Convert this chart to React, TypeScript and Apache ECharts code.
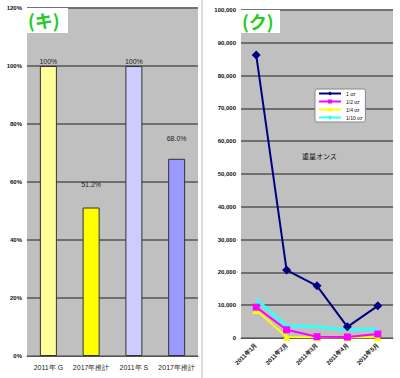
import React, { useEffect, useRef } from "react";
import * as echarts from "echarts";

const barCategories = ["2011年 G", "2017年推計", "2011年 S", "2017年推計"];
const barValues = [1.0, 0.512, 1.0, 0.68];
const barLabels = ["100%", "51.2%", "100%", "68.0%"];
const barColors = ["#ffff99", "#ffff00", "#ccccff", "#9999ff"];
const barLabelDist = [1, 20, 1, 17];
const leftGridTicks = [0.2, 0.4, 0.6, 0.8, 1.0, 1.2];

const lineCategories = ["2011年1月", "2011年2月", "2011年3月", "2011年4月", "2011年5月"];
const oz1 = [86300, 20700, 15900, 3400, 9800];
const oz12 = [9400, 2500, 400, 300, 1200];
const oz14 = [8500, 300, 200, 200, 200];
const oz110 = [11800, 3700, 3400, 2500, 2600];
const rightGridTicks = [10000, 20000, 30000, 40000, 50000, 60000, 70000, 80000, 90000, 100000];

const G1 = { left: 27, top: 8, width: 171, height: 348 };
const G2 = { left: 241, top: 10, width: 152, height: 328 };

const gridLineMark = (ticks: number[]) => ({
  silent: true,
  z: 1,
  symbol: ["none", "none"],
  label: { show: false },
  emphasis: { disabled: true },
  lineStyle: { color: "#6a6a6a", width: 1.5, type: "solid" },
  data: ticks.map((t) => ({ yAxis: t })),
});

export default function App() {
  const ref = useRef<HTMLDivElement>(null);
  useEffect(() => {
    if (!ref.current) return;
    const chart = echarts.init(ref.current, null, { renderer: "svg" });
    const axisLabelStyle = { fontSize: 6, color: "#111", fontFamily: "Arial", fontWeight: "bold" as const };
    chart.setOption({
      animation: false,
      backgroundColor: "#ffffff",
      grid: [
        { ...G1, show: false },
        { ...G2, show: false },
      ],
      xAxis: [
        {
          gridIndex: 0,
          type: "category",
          data: barCategories,
          axisLine: { show: true, lineStyle: { color: "#555" } },
          axisTick: { show: false },
          axisLabel: { fontSize: 7, color: "#222", fontFamily: "Arial", margin: 8, interval: 0 },
        },
        {
          gridIndex: 1,
          type: "category",
          data: lineCategories,
          axisLine: { show: true, lineStyle: { color: "#555" } },
          axisTick: { show: false },
          axisLabel: { fontSize: 6, color: "#111", fontFamily: "Arial", rotate: 45, margin: 6, fontWeight: "bold", interval: 0 },
        },
      ],
      yAxis: [
        {
          gridIndex: 0,
          type: "value",
          min: 0,
          max: 1.2,
          interval: 0.2,
          axisLine: { show: false },
          axisTick: { show: false },
          axisLabel: { ...axisLabelStyle, margin: 5, formatter: (v: number) => Math.round(v * 100) + "%" },
          splitLine: { show: true, lineStyle: { color: "#6a6a6a", width: 1.5 } },
        },
        {
          gridIndex: 1,
          type: "value",
          min: 0,
          max: 100000,
          interval: 10000,
          axisLine: { show: false },
          axisTick: { show: false },
          axisLabel: { ...axisLabelStyle, margin: 5, formatter: (v: number) => v.toLocaleString("en-US") },
          splitLine: { show: true, lineStyle: { color: "#6a6a6a", width: 1.5 } },
        },
      ],
      legend: {
        data: ["1 oz", "1/2 oz", "1/4 oz", "1/10 oz"],
        orient: "vertical",
        left: 315,
        top: 89,
        backgroundColor: "#ffffff",
        borderColor: "#888",
        borderWidth: 1,
        borderRadius: 2,
        padding: [2, 3],
        itemWidth: 22,
        itemHeight: 5,
        itemGap: 3,
        textStyle: { fontSize: 5, color: "#111", fontFamily: "Arial" },
      },
      series: [
        {
          type: "bar",
          xAxisIndex: 0,
          yAxisIndex: 0,
          barWidth: 17,
          z: 3,
          markLine: gridLineMark(leftGridTicks),
          data: barValues.map((v, i) => ({
            value: v,
            itemStyle: { color: barColors[i], borderColor: "#333", borderWidth: 1 },
            label: {
              show: true,
              position: "top",
              distance: barLabelDist[i],
              formatter: barLabels[i],
              fontSize: 7,
              color: "#222",
              fontFamily: "Arial",
            },
          })),
        },
        {
          name: "1/10 oz",
          type: "line",
          xAxisIndex: 1,
          yAxisIndex: 1,
          z: 3,
          data: oz110,
          symbol: "none",
          markLine: gridLineMark(rightGridTicks),
          itemStyle: { color: "#33ffff" },
          lineStyle: { color: "#33ffff", width: 3 },
        },
        {
          name: "1/4 oz",
          type: "line",
          xAxisIndex: 1,
          yAxisIndex: 1,
          z: 3,
          data: oz14,
          symbol: "triangle",
          symbolSize: 8,
          itemStyle: { color: "#ffff00" },
          lineStyle: { color: "#ffff00", width: 2 },
        },
        {
          name: "1/2 oz",
          type: "line",
          xAxisIndex: 1,
          yAxisIndex: 1,
          z: 3,
          data: oz12,
          symbol: "rect",
          symbolSize: 7,
          itemStyle: { color: "#ff00ff" },
          lineStyle: { color: "#ff00ff", width: 2 },
        },
        {
          name: "1 oz",
          type: "line",
          xAxisIndex: 1,
          yAxisIndex: 1,
          z: 3,
          data: oz1,
          symbol: "diamond",
          symbolSize: 9,
          itemStyle: { color: "#000080" },
          lineStyle: { color: "#000080", width: 2 },
        },
      ],
      graphic: [
        { type: "rect", z: -100, shape: { x: G1.left, y: G1.top, width: G1.width, height: G1.height }, style: { fill: "#c0c0c0" } },
        { type: "rect", z: -100, shape: { x: G2.left, y: G2.top, width: G2.width, height: G2.height }, style: { fill: "#c0c0c0" } },
        { type: "line", z: -100, shape: { x1: 202, y1: 0, x2: 202, y2: 378 }, style: { stroke: "#bbbbbb", lineWidth: 1 } },
        { type: "rect", z: 50, shape: { x: 27, y: 8, width: 41, height: 25 }, style: { fill: "#ffffff" } },
        {
          type: "text",
          z: 51,
          x: 28,
          y: 11,
          style: { text: "(キ)", fill: "#22cc22", font: "bold 18px 'Noto Sans CJK JP'" },
        },
        { type: "rect", z: 50, shape: { x: 241, y: 10, width: 39, height: 23 }, style: { fill: "#ffffff" } },
        {
          type: "text",
          z: 51,
          x: 242,
          y: 12,
          style: { text: "(ク)", fill: "#22cc22", font: "bold 18px 'Noto Sans CJK JP'" },
        },
        {
          type: "text",
          z: 51,
          x: 302,
          y: 152,
          style: { text: "重量オンス", fill: "#111", font: "7px 'Noto Sans CJK JP'" },
        },
      ],
    });
    return () => chart.dispose();
  }, []);
  return <div ref={ref} style={{ position: "fixed", left: 0, top: 0, width: 400, height: 378 }} />;
}
